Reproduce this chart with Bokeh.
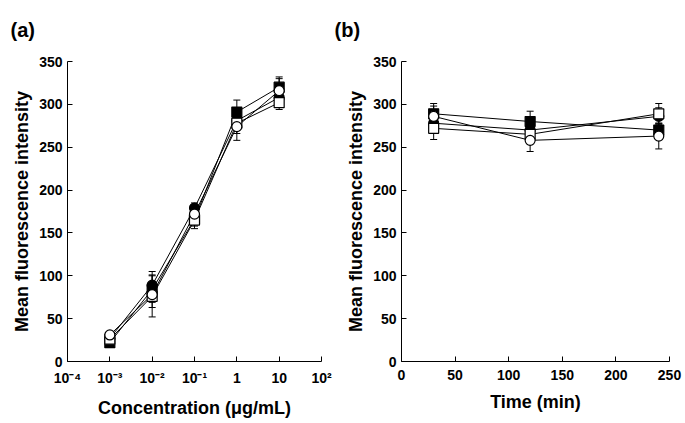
from bokeh.plotting import figure
from bokeh.models import Range1d, FixedTicker, Whisker, TeeHead, ColumnDataSource
from bokeh.layouts import row
from bokeh.embed import file_html
from bokeh.resources import INLINE

# ---------------- data ----------------
# Panel (a): concentration series
conc = [1e-3, 1e-2, 1e-1, 1, 10]
conc_fsq = [22, 84, 166, 291, 320]
conc_fsq_err = [4, 21, 8, 14, 12]
conc_fci = [27, 89, 179, 281, 308]
conc_fci_err = [3, 12, 6, 10, 10]
conc_osq = [26, 76, 165, 278, 302]
conc_osq_err = [4, 24, 10, 12, 8]
conc_oci = [31, 78, 172, 274, 316]
conc_oci_err = [3, 9, 8, 16, 14]

conc_ticks = [1e-4, 1e-3, 1e-2, 1e-1, 1, 10, 100]
conc_tick_labels = ["10\u207b\u2074", "10\u207b\u00b3", "10\u207b\u00b2", "10\u207b\u00b9", "1", "10", "10\u00b2"]

# Panel (b): time series
time = [30, 120, 240]
time_fsq = [289, 280, 270]
time_fsq_err = [12, 12, 8]
time_fci = [278, 270, 286]
time_fci_err = [8, 10, 10]
time_osq = [272, 265, 289]
time_osq_err = [13, 8, 12]
time_oci = [286, 258, 263]
time_oci_err = [12, 13, 15]

time_ticks = [0, 50, 100, 150, 200, 250]
y_ticks = [0, 50, 100, 150, 200, 250, 300, 350]

FONT = "Liberation Sans"


def style(p, xlabel, offset):
    p.outline_line_color = None
    p.xgrid.visible = False
    p.ygrid.visible = False
    p.title.align = "left"
    p.title.vertical_align = "top"
    p.title.offset = offset
    p.title.standoff = 37
    p.title.text_font = FONT
    p.title.text_font_style = "bold"
    p.title.text_font_size = "20px"
    p.title.text_color = "black"
    for ax in p.axis:
        ax.axis_line_color = "black"
        ax.axis_line_width = 1
        ax.major_tick_in = 5
        ax.major_tick_out = 0
        ax.minor_tick_line_color = None
        ax.major_tick_line_color = "black"
        ax.major_label_text_font = FONT
        ax.major_label_text_font_style = "bold"
        ax.major_label_text_font_size = "14px"
        ax.major_label_text_color = "black"
        ax.axis_label_text_font = FONT
        ax.axis_label_text_font_style = "bold"
        ax.axis_label_text_font_size = "18px"
        ax.axis_label_text_color = "black"
    p.xaxis.axis_label = xlabel
    p.yaxis.axis_label = "Mean fluorescence intensity"
    p.xaxis.major_label_standoff = 8
    p.xaxis.axis_label_standoff = 9
    p.yaxis.major_label_standoff = 5
    p.yaxis.axis_label_standoff = 4
    p.yaxis.ticker = FixedTicker(ticks=y_ticks)


def add_series(p, xs, ys, errs, marker, filled):
    src = ColumnDataSource(dict(x=xs, y=ys,
                                lo=[a - b for a, b in zip(ys, errs)],
                                hi=[a + b for a, b in zip(ys, errs)]))
    p.line("x", "y", source=src, line_color="black", line_width=1)
    w = Whisker(base="x", lower="lo", upper="hi", source=src,
                line_color="black", line_width=1,
                upper_head=TeeHead(size=7, line_color="black", line_width=1),
                lower_head=TeeHead(size=7, line_color="black", line_width=1))
    p.add_layout(w)
    return src, marker, filled


def draw_markers(p, entries):
    for src, marker, filled in entries:
        p.scatter("x", "y", source=src, marker=marker, size=10,
                  fill_color="black" if filled else "white",
                  line_color="black", line_width=1.2)


H = 423

# ---------------- panel (a) ----------------
p1 = figure(width=333, height=H, x_axis_type="log", title="(a)",
            x_range=Range1d(1e-4, 100), y_range=Range1d(0, 350),
            output_backend="svg", toolbar_location=None,
            min_border_left=67, min_border_right=12,
            min_border_top=60, min_border_bottom=62)
style(p1, "Concentration (\u03bcg/mL)", -57)
p1.xaxis.ticker = FixedTicker(ticks=conc_ticks)
p1.xaxis.major_label_overrides = dict(zip(conc_ticks, conc_tick_labels))

e1 = [add_series(p1, conc, conc_fsq, conc_fsq_err, "square", True),
      add_series(p1, conc, conc_fci, conc_fci_err, "circle", True),
      add_series(p1, conc, conc_osq, conc_osq_err, "square", False),
      add_series(p1, conc, conc_oci, conc_oci_err, "circle", False)]
draw_markers(p1, e1)

# ---------------- panel (b) ----------------
p2 = figure(width=352, height=H, title="(b)",
            x_range=Range1d(0, 250), y_range=Range1d(0, 350),
            output_backend="svg", toolbar_location=None,
            min_border_left=68, min_border_right=16,
            min_border_top=60, min_border_bottom=62)
style(p2, "Time (min)", -67)
p2.xaxis.ticker = FixedTicker(ticks=time_ticks)

e2 = [add_series(p2, time, time_fsq, time_fsq_err, "square", True),
      add_series(p2, time, time_fci, time_fci_err, "circle", True),
      add_series(p2, time, time_osq, time_osq_err, "square", False),
      add_series(p2, time, time_oci, time_oci_err, "circle", False)]
draw_markers(p2, e2)

layout = row(p1, p2)
open("out.html", "w").write(file_html(layout, INLINE))
